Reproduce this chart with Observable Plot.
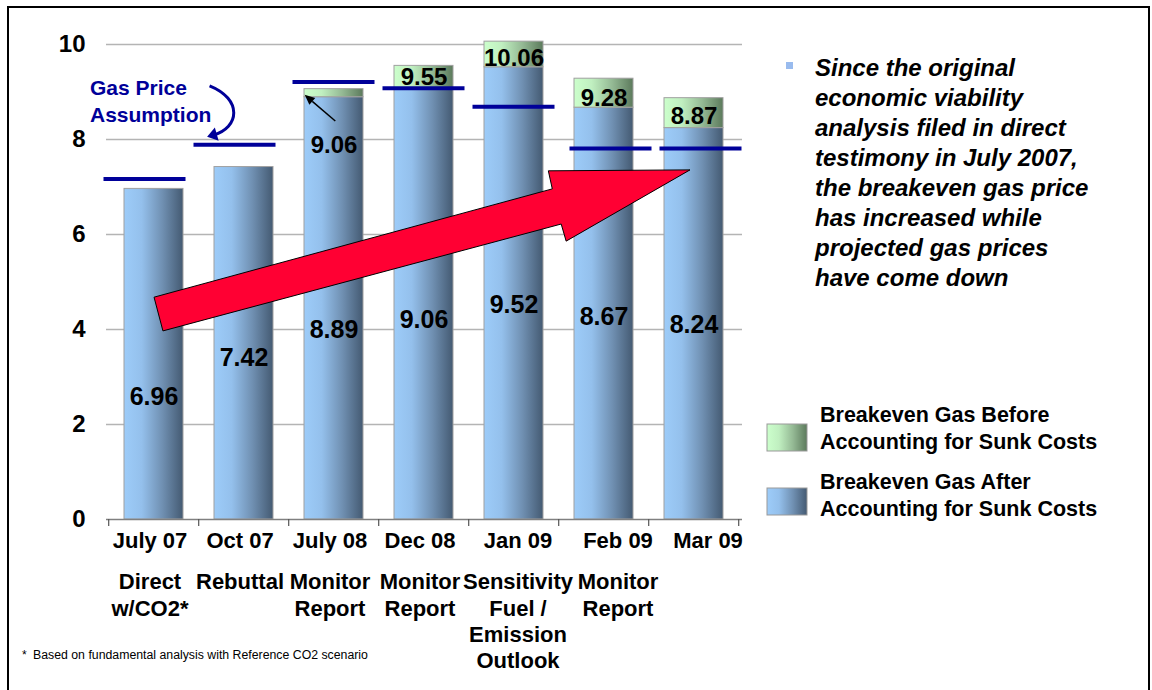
<!DOCTYPE html>
<html>
<head>
<meta charset="utf-8">
<script src="https://cdn.jsdelivr.net/npm/d3@7"></script>
<script src="https://cdn.jsdelivr.net/npm/@observablehq/plot@0.6"></script>
<style>
  html, body { margin: 0; padding: 0; background: #fff; }
  #chart svg { display: block; }
</style>
</head>
<body>
<div id="chart"></div>
<script>
// ---------- data ----------
const categories = ["July 07", "Oct 07", "July 08", "Dec 08", "Jan 09", "Feb 09", "Mar 09"];
const subLabels = ["Direct\nw/CO2*", "Rebuttal", "Monitor\nReport", "Monitor\nReport", "Sensitivity\nFuel /\nEmission\nOutlook", "Monitor\nReport", ""];
const afterSunk = [6.96, 7.42, 8.89, 9.06, 9.52, 8.67, 8.24];
const beforeSunk = [null, null, 9.06, 9.55, 10.06, 9.28, 8.87];
const gasAssumption = [7.17, 7.89, 9.21, 9.08, 8.69, 7.81, 7.81];
const afterLabelAt = [2.57, 3.41, 3.98, 4.19, 4.52, 4.27, 4.10];
const beforeLabelAt = [null, null, 7.87, 9.30, 9.71, 8.87, 8.49];
const yTicks = [0, 2, 4, 6, 8, 10];
const legendItems = [
  ["Breakeven Gas Before", "Accounting for Sunk Costs"],
  ["Breakeven Gas After", "Accounting for Sunk Costs"]
];
const noteLines = ["Since the original", "economic viability", "analysis filed in direct",
  "testimony in July 2007,", "the breakeven gas price", "has increased while",
  "projected gas prices", "have come down"];
const gasNote = ["Gas Price", "Assumption"];
const footnote = "Based on fundamental analysis with Reference CO2 scenario";
// annotation shapes in (category index, value) space
const trendArrow = [[0.006, 4.67], [4.431, 6.95], [4.387, 7.33], [5.961, 7.35], [4.585, 5.85], [4.53, 6.21], [0.105, 3.96]];
const pointerArrow = [[2.02, 8.38], [1.68, 8.93]];
const gasCurve = [[0.623, 9.12], [0.99, 8.84], [0.96, 8.24], [0.66, 8.08]];

const rows = categories.map((c, i) => ({
  idx: i, cat: c, sub: subLabels[i], after: afterSunk[i], before: beforeSunk[i],
  gas: gasAssumption[i], afterAt: afterLabelAt[i], beforeAt: beforeLabelAt[i]
}));

const FONT = "'Liberation Sans', Arial, Helvetica, sans-serif";

function defsMark() {
  const defs = d3.create("svg:defs");
  const mk = (id, stops) => {
    const g = defs.append("linearGradient").attr("id", id)
      .attr("x1", 0).attr("x2", 1).attr("y1", 0).attr("y2", 0);
    stops.forEach(([o, c]) => g.append("stop").attr("offset", o).attr("stop-color", c));
  };
  mk("gBlue", [[0, "#9dccf9"], [0.3, "#94c0ec"], [0.65, "#7090b2"], [1, "#445a72"]]);
  mk("gGreen", [[0, "#ccffcc"], [0.3, "#c0efc0"], [0.65, "#94b994"], [1, "#5c7a5c"]]);
  return defs.node();
}

function helpers(scales) {
  const x = scales.x, y = scales.y;
  const bw = x.bandwidth ? x.bandwidth() : 0;
  const step = x.step ? x.step() : 0;
  const x0 = x(categories[0]) + bw / 2;
  return { P: ([i, v]) => [x0 + i * step, y(v)], x, y, bw, step };
}

function axisTicksMark(index, scales) {
  const { x, y, step } = helpers(scales);
  const g = d3.create("svg:g").attr("stroke", "#555").attr("stroke-width", 1.2);
  const start = x(categories[0]) - step * (x.paddingOuter ? x.paddingOuter() : 0.17);
  for (let k = 0; k <= categories.length; k++) {
    const px = start + k * step;
    g.append("line").attr("x1", px).attr("x2", px).attr("y1", y(0)).attr("y2", y(0) + 7);
  }
  return g.node();
}

function annotationsMark(index, scales) {
  const { P } = helpers(scales);
  const g = d3.create("svg:g");
  // big red trend arrow
  g.append("polygon")
    .attr("points", trendArrow.map(P).map(p => p.join(",")).join(" "))
    .attr("fill", "#ff0033").attr("stroke", "#000").attr("stroke-width", 1);
  // small pointer arrow to the green segment of July 08
  const [a, b] = pointerArrow.map(P);
  const ang = Math.atan2(b[1] - a[1], b[0] - a[0]);
  const hl = 10, hw = 4.5;
  const base = [b[0] - hl * Math.cos(ang), b[1] - hl * Math.sin(ang)];
  g.append("line").attr("x1", a[0]).attr("y1", a[1]).attr("x2", base[0]).attr("y2", base[1])
    .attr("stroke", "#000").attr("stroke-width", 1.5);
  g.append("polygon").attr("points", [
    b, [base[0] + hw * Math.sin(ang), base[1] - hw * Math.cos(ang)],
    [base[0] - hw * Math.sin(ang), base[1] + hw * Math.cos(ang)]].map(p => p.join(",")).join(" "))
    .attr("fill", "#000");
  // curved arrow of "Gas Price Assumption"
  const c = gasCurve.map(P);
  g.append("path")
    .attr("d", `M${c[0]}C${c[1]} ${c[2]} ${c[3]}`)
    .attr("fill", "none").attr("stroke", "#000099").attr("stroke-width", 3);
  const ang2 = Math.atan2(c[3][1] - c[2][1], c[3][0] - c[2][0]);
  const tip = [c[3][0] + 6 * Math.cos(ang2), c[3][1] + 6 * Math.sin(ang2)];
  const b2 = [c[3][0] - 4 * Math.cos(ang2), c[3][1] - 4 * Math.sin(ang2)];
  g.append("polygon").attr("points", [
    tip, [b2[0] + 7 * Math.sin(ang2), b2[1] - 7 * Math.cos(ang2)],
    [b2[0] - 7 * Math.sin(ang2), b2[1] + 7 * Math.cos(ang2)]].map(p => p.join(",")).join(" "))
    .attr("fill", "#000099");
  // "Gas Price Assumption" label
  const t = g.append("text").attr("fill", "#000099").attr("font-size", 21).attr("font-weight", "bold")
    .attr("font-family", FONT).attr("text-anchor", "start");
  gasNote.forEach((s, k) => t.append("tspan").attr("x", 90).attr("y", 95 + k * 27).text(s));
  return g.node();
}

function sidePanelMark() {
  const g = d3.create("svg:g").attr("font-family", FONT).attr("text-anchor", "start").attr("fill", "#000");
  // bullet text
  g.append("rect").attr("x", 786).attr("y", 62).attr("width", 7).attr("height", 7).attr("fill", "#99bbee");
  const t = g.append("text").attr("font-size", 24).attr("font-weight", "bold").attr("font-style", "italic");
  noteLines.forEach((s, k) => t.append("tspan").attr("x", 815).attr("y", 76 + k * 30).text(s));
  // legend
  const fills = ["url(#gGreen)", "url(#gBlue)"];
  legendItems.forEach((lines, k) => {
    const y0 = 422 + k * 67;
    g.append("rect").attr("x", 767).attr("y", k ? y0 - 1 : y0 + 2).attr("width", 40).attr("height", 27)
      .attr("fill", fills[k]).attr("stroke", "#999").attr("stroke-width", 1);
    const tt = g.append("text").attr("font-size", 21.5).attr("font-weight", "bold");
    lines.forEach((s, j) => tt.append("tspan").attr("x", 820).attr("y", y0 + j * 27).text(s));
  });
  // footnote
  g.append("text").attr("x", 22).attr("y", 659).attr("font-size", 12).text("*");
  g.append("text").attr("x", 33).attr("y", 659).attr("font-size", 12.3).text(footnote);
  // outer frame
  g.append("rect").attr("x", 8).attr("y", 7).attr("width", 1141).attr("height", 720)
    .attr("fill", "none").attr("stroke", "#000").attr("stroke-width", 2);
  return g.node();
}

// the slide's text boxes and assumption bars sit slightly off the band centres
const labelGroups = [[[0, 1, 2, 3], -4], [[4], 4], [[5, 6], 14]];
const gasGroups = [[[0, 1], -9], [[2, 3, 4], 0], [[5, 6], 7]];
const inGroup = ids => rows.filter(d => ids.includes(d.idx));

const chart = Plot.plot({
  width: 1152,
  height: 690,
  marginLeft: 106,
  marginRight: 410,
  marginTop: 44,
  marginBottom: 171,
  style: { fontFamily: FONT, background: "#fff", overflow: "visible" },
  x: { domain: categories, paddingInner: 0.34, paddingOuter: 0.17, axis: null },
  y: { domain: [0, 10], axis: null },
  marks: [
    defsMark,
    Plot.ruleY(yTicks.filter(t => t > 0), { stroke: "#b4b4b4", strokeWidth: 1.5 }),
    Plot.barY(rows, { x: "cat", y: "after", fill: "url(#gBlue)", stroke: "#a0a0a0", strokeWidth: 1 }),
    Plot.barY(rows.filter(d => d.before != null), { x: "cat", y1: "after", y2: "before", fill: "url(#gGreen)", stroke: "#a0a0a0", strokeWidth: 1 }),
    Plot.ruleY([0], { stroke: "#808080", strokeWidth: 1.5 }),
    axisTicksMark,
    ...gasGroups.map(([ids, dx]) =>
      Plot.tickY(inGroup(ids), { x: "cat", y: "gas", stroke: "#000099", strokeWidth: 4, insetLeft: -11.5 + dx, insetRight: -11.5 - dx })),
    annotationsMark,
    Plot.text(rows, { x: "cat", y: "afterAt", text: d => d.after.toFixed(2), fontSize: 25, fontWeight: "bold", fill: "#000" }),
    Plot.text(rows.filter(d => d.before != null), { x: "cat", y: "beforeAt", text: d => d.before.toFixed(2), fontSize: 24, fontWeight: "bold", fill: "#000" }),
    Plot.text(yTicks, { y: d => d, text: d => String(d), frameAnchor: "left", textAnchor: "end", dx: -21, fontSize: 24, fontWeight: "bold", fill: "#000" }),
    ...labelGroups.map(([ids, dx]) =>
      Plot.text(inGroup(ids), { x: "cat", y: () => 0, text: "cat", dx, dy: 21, fontSize: 22, fontWeight: "bold", fill: "#000" })),
    ...labelGroups.map(([ids, dx]) =>
      Plot.text(inGroup(ids), { x: "cat", y: () => 0, text: "sub", dx, dy: 51, lineAnchor: "top", lineHeight: 1.2, fontSize: 22, fontWeight: "bold", fill: "#000" })),
    sidePanelMark
  ]
});

document.getElementById("chart").appendChild(chart);
</script>
</body>
</html>
